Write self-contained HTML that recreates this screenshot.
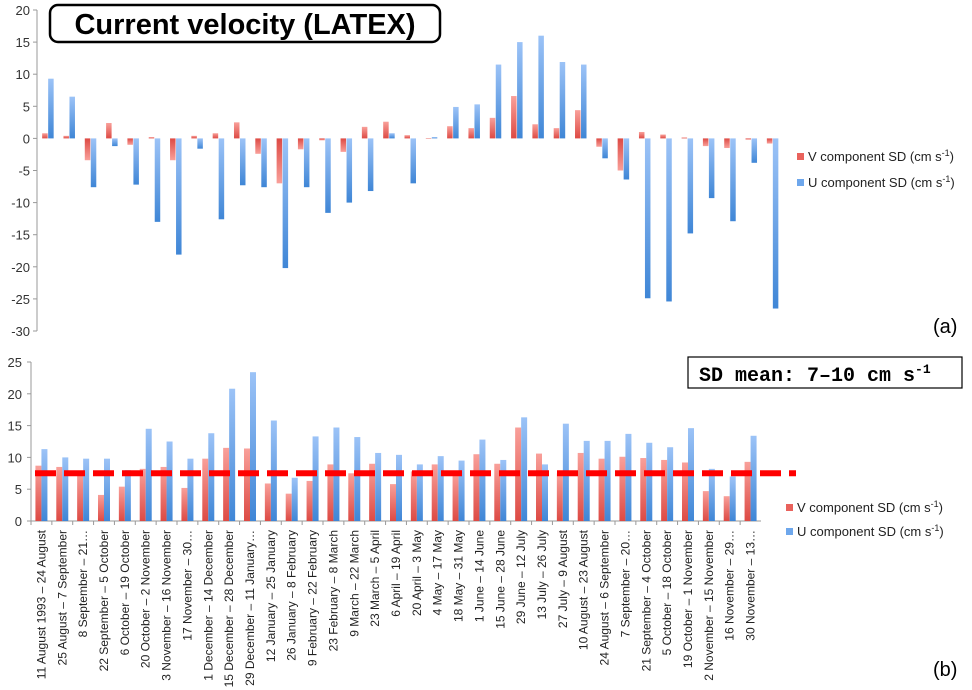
<!DOCTYPE html>
<html><head><meta charset="utf-8">
<style>
body{margin:0;background:#fff;}
svg{display:block;font-family:"Liberation Sans",sans-serif;}
</style></head>
<body>
<svg id="chart" width="972" height="690" viewBox="0 0 972 690">
<defs>
<linearGradient id="gv" x1="0" y1="0" x2="0" y2="1"><stop offset="0" stop-color="#f9a09a"/><stop offset="1" stop-color="#dd4a44"/></linearGradient>
<linearGradient id="gu" x1="0" y1="0" x2="0" y2="1"><stop offset="0" stop-color="#9cc3f7"/><stop offset="1" stop-color="#3f86d6"/></linearGradient>
<linearGradient id="gvn" x1="0" y1="1" x2="0" y2="0"><stop offset="0" stop-color="#f9a09a"/><stop offset="1" stop-color="#dd4a44"/></linearGradient>
<linearGradient id="gun" x1="0" y1="0" x2="0" y2="1"><stop offset="0" stop-color="#9cc3f7"/><stop offset="1" stop-color="#3f86d6"/></linearGradient>
</defs>
<g id="topPanel"></g>
<g id="botPanel"></g>
<rect x="50" y="5" width="390" height="37" rx="8" fill="#fff" stroke="#000" stroke-width="2.5"/>
<text x="245" y="34" text-anchor="middle" font-size="29" font-weight="bold">Current velocity (LATEX)</text>
<rect x="688" y="357" width="274" height="31" fill="#fff" stroke="#000" stroke-width="1.2"/>
<text x="699" y="381" font-size="20" font-weight="bold" font-family="'Liberation Mono',monospace">SD mean: 7–10 cm s<tspan dy="-8" font-size="13">-1</tspan></text>
<text x="933" y="333" font-size="20">(a)</text>
<text x="933" y="676" font-size="20">(b)</text>
</svg>
<script>
const categories=["11 August 1993 – 24 August","25 August – 7 September","8 September – 21…","22 September – 5 October","6 October – 19 October","20 October – 2 November","3 November – 16 November","17 November – 30…","1 December – 14 December","15 December – 28 December","29 December – 11 January…","12 January – 25 January","26 January – 8 February","9 February – 22 February","23 February – 8 March","9 March – 22 March","23 March – 5 April","6 April – 19 April","20 April – 3 May","4 May – 17 May","18 May – 31 May","1 June – 14 June","15 June – 28 June","29 June – 12 July","13 July – 26 July","27 July – 9 August","10 August – 23 August","24 August – 6 September","7 September – 20…","21 September – 4 October","5 October – 18 October","19 October – 1 November","2 November – 15 November","16 November – 29…","30 November – 13…"];
const velV=[0.8,0.4,-3.4,2.4,-1.0,0.2,-3.4,0.4,0.8,2.5,-2.4,-7.0,-1.7,-0.3,-2.1,1.8,2.6,0.5,0.0,1.9,1.6,3.2,6.6,2.2,1.6,4.4,-1.3,-5.0,1.0,0.6,0.15,-1.2,-1.5,-0.2,-0.8];
const velU=[9.3,6.5,-7.6,-1.2,-7.2,-13,-18.1,-1.6,-12.6,-7.3,-7.6,-20.2,-7.6,-11.6,-10,-8.2,0.8,-7,0.2,4.9,5.3,11.5,15,16,11.9,11.5,-3.1,-6.4,-24.9,-25.4,-14.8,-9.3,-12.9,-3.8,-26.5];
const sdV=[8.7,8.5,7.6,4.1,5.4,8.2,8.5,5.2,9.8,11.5,11.4,5.9,4.3,6.3,8.9,7.5,9.0,5.8,7.8,8.9,7.5,10.5,9.0,14.7,10.6,7.5,10.7,9.8,10.1,9.9,9.6,9.2,4.7,3.9,9.3];
const sdU=[11.3,10.0,9.8,9.8,8.0,14.5,12.5,9.8,13.8,20.8,23.4,15.8,6.8,13.3,14.7,13.2,10.7,10.4,8.9,10.2,9.5,12.8,9.6,16.3,8.9,15.3,12.6,12.6,13.7,12.3,11.6,14.6,8.2,7.0,13.4];
const sdMean=[7.5];
const topTicks=[20,15,10,5,0,-5,-10,-15,-20,-25,-30];
const botTicks=[0,5,10,15,20,25];

const NS="http://www.w3.org/2000/svg";
function mk(parent,tag,attrs){const e=document.createElementNS(NS,tag);for(const k in attrs)e.setAttribute(k,attrs[k]);parent.appendChild(e);return e;}
const gTop=document.getElementById('topPanel'), gBot=document.getElementById('botPanel');
const n=categories.length;

const tX0=37,tX1=783,tYmax=20,tYmin=-30,tYtop=10,tYbot=331;
const ty=v=>tYtop+(tYmax-v)/(tYmax-tYmin)*(tYbot-tYtop);
const tBand=(tX1-tX0)/n;
const tx=i=>tX0+(i+0.5)*tBand;
const ta=mk(gTop,'line',{x1:tX0,y1:tYtop,x2:tX0,y2:tYbot,stroke:'#999'});


topTicks.forEach(t=>{
  const l=mk(gTop,'line',{x1:tX0-4,y1:ty(t),x2:tX0,y2:ty(t),stroke:'#999'});
  
  
  const tt=mk(gTop,'text',{x:tX0-7,y:ty(t)+5,'text-anchor':'end','font-size':13,fill:'#333'});
  tt.textContent=t;
  
  
});
for(let i=0;i<n;i++){
  const c=tx(i);
  [[velV[i],c-5.5,'v'],[velU[i],c+0.5,'u']].forEach(([v,x,s])=>{
    const y0=ty(0),y1=ty(v);
    const r=mk(gTop,'rect',{x:x,y:Math.min(y0,y1),width:5.5,height:Math.max(0.5,Math.abs(y1-y0)),fill:s==='v'?(v>=0?'url(#gv)':'url(#gvn)'):(v>=0?'url(#gu)':'url(#gun)')});
    
    
  });
}
[['#e9625c','V component SD (cm s',157,'top-legend-v'],['#6ea7ec','U component SD (cm s',183,'top-legend-u']].forEach(([c,t,y,nm])=>{
  const sq=mk(gTop,'rect',{x:797,y:y-4,width:7,height:7,fill:c});
  
  
  const tt=mk(gTop,'text',{x:808,y:y+4,'font-size':13,fill:'#222'});
  tt.innerHTML=t+'<tspan dy="-5" font-size="9">-1</tspan><tspan dy="5">)</tspan>';
  
  
});

const bX0=31,bX1=761,bYmax=25,bYtop=362,bYbot=521;
const by=v=>bYbot-v/bYmax*(bYbot-bYtop);
const bBand=(bX1-bX0)/n;
const bx=i=>bX0+(i+0.5)*bBand;
const ba=mk(gBot,'line',{x1:bX0,y1:bYtop,x2:bX0,y2:bYbot,stroke:'#999'});


const bxa=mk(gBot,'line',{x1:bX0,y1:bYbot,x2:bX1,y2:bYbot,stroke:'#999'});


botTicks.forEach(t=>{
  const l=mk(gBot,'line',{x1:bX0-4,y1:by(t),x2:bX0,y2:by(t),stroke:'#999'});
  
  
  const tt=mk(gBot,'text',{x:bX0-9,y:by(t)+5,'text-anchor':'end','font-size':13,fill:'#333'});
  tt.textContent=t;
  
  
});
for(let i=0;i<n;i++){
  const c=bx(i);
  const r1=mk(gBot,'rect',{x:c-6,y:by(sdV[i]),width:6,height:by(0)-by(sdV[i]),fill:'url(#gv)'});
  
  
  const r2=mk(gBot,'rect',{x:c,y:by(sdU[i]),width:6,height:by(0)-by(sdU[i]),fill:'url(#gu)'});
  
  
  const tk=mk(gBot,'line',{x1:bX0+i*bBand,y1:bYbot,x2:bX0+i*bBand,y2:bYbot+4,stroke:'#999'});
  
  
  const lb=mk(gBot,'text',{x:0,y:0,'text-anchor':'end','font-size':12,fill:'#222',transform:`translate(${c+4},530) rotate(-90)`});
  lb.textContent=categories[i];
  
  
}
const ml=mk(gBot,'line',{x1:35,y1:by(sdMean[0]),x2:796,y2:by(sdMean[0]),stroke:'#f00','stroke-width':6,'stroke-dasharray':'21 8'});


[['#e9625c','V component SD (cm s',508,'bottom-legend-v'],['#6ea7ec','U component SD (cm s',532,'bottom-legend-u']].forEach(([c,t,y,nm])=>{
  const sq=mk(gBot,'rect',{x:786,y:y-4,width:7,height:7,fill:c});
  
  
  const tt=mk(gBot,'text',{x:797,y:y+4,'font-size':13,fill:'#222'});
  tt.innerHTML=t+'<tspan dy="-5" font-size="9">-1</tspan><tspan dy="5">)</tspan>';
  
  
});
</script>
</body></html>
